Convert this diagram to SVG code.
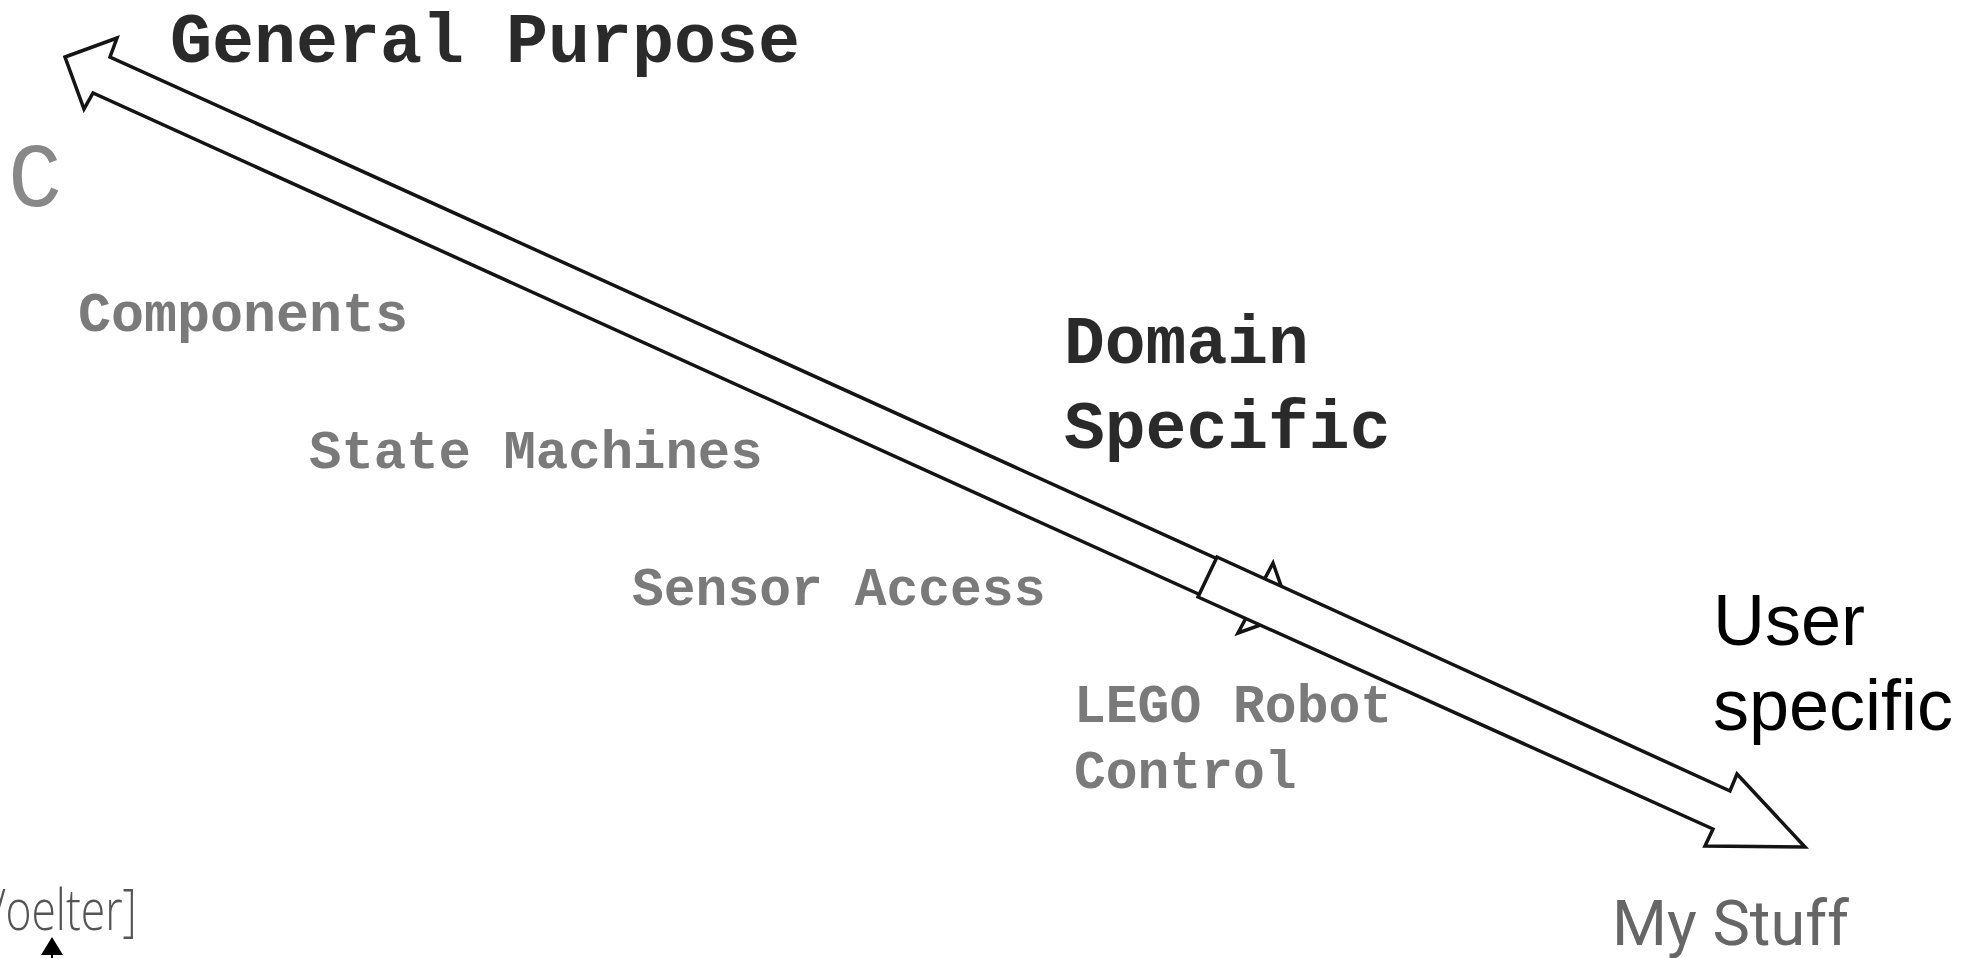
<svg xmlns="http://www.w3.org/2000/svg" width="1974" height="958" viewBox="0 0 1974 958">
  <style>
    .mono { font-family: "Liberation Mono", "Courier New", monospace; }
    .head { fill: #2a2a2a; font-weight: bold; }
    .level { fill: #7a7a7a; font-weight: bold; }
    .sans { font-family: "Liberation Sans", Arial, sans-serif; fill: #000; font-size: 72px; }
    .block { fill: #fff; stroke: #141414; stroke-width: 3.5; stroke-linejoin: miter; }
  </style>

  <rect width="1974" height="958" fill="#fff"/>

  <!-- axis: double-headed block arrow, then the user-specific arrow on top -->
  <g id="connectors">
    <polygon class="block" points="65,57 117,38 110,57 1264,580 1273,563 1291,614 1238,633 1247,616 93,93 84,109"/>
    <polygon class="block" points="1217,557 1730,791 1737,774 1805,847 1705,846 1713,829 1198,597"/>
  </g>

  <g id="general-purpose">
    <text class="mono head" x="170" y="62" font-size="70">General Purpose</text>
  </g>

  <g id="domain-specific">
    <text class="mono head" x="1064" y="363" font-size="68">Domain</text>
    <text class="mono head" x="1064" y="448" font-size="68">Specific</text>
  </g>

  <g id="user-specific">
    <text class="sans" x="1713" y="645">User</text>
    <text class="sans" x="1713" y="730">specific</text>
  </g>

  <g id="level-c">
    <text class="mono" x="8" y="206" font-size="90" fill="#888">C</text>
  </g>

  <g id="level-components">
    <text class="mono level" x="78" y="331" font-size="55">Components</text>
  </g>

  <g id="level-state-machines">
    <text class="mono level" x="309" y="468" font-size="54">State Machines</text>
  </g>

  <g id="level-sensor-access">
    <text class="mono level" x="632" y="605" font-size="53">Sensor Access</text>
  </g>

  <g id="level-lego">
    <text class="mono level" x="1074" y="722" font-size="53">LEGO Robot</text>
    <text class="mono level" x="1074" y="788" font-size="53">Control</text>
  </g>

  <g id="my-stuff">
    <text x="1612" y="945" font-family="Roboto, 'Liberation Sans', sans-serif" font-size="63" fill="#666">My Stuff</text>
  </g>

  <g id="credit">
    <text transform="scale(0.78,1)" x="-26" y="930" font-family="'Open Sans', 'Liberation Sans', sans-serif" font-weight="300" font-size="57" fill="#555">Voelter]</text>
    <polygon points="52,937 41,955 63,955" fill="#000"/>
    <line x1="52" y1="954" x2="52" y2="958" stroke="#000" stroke-width="2"/>
  </g>
</svg>
